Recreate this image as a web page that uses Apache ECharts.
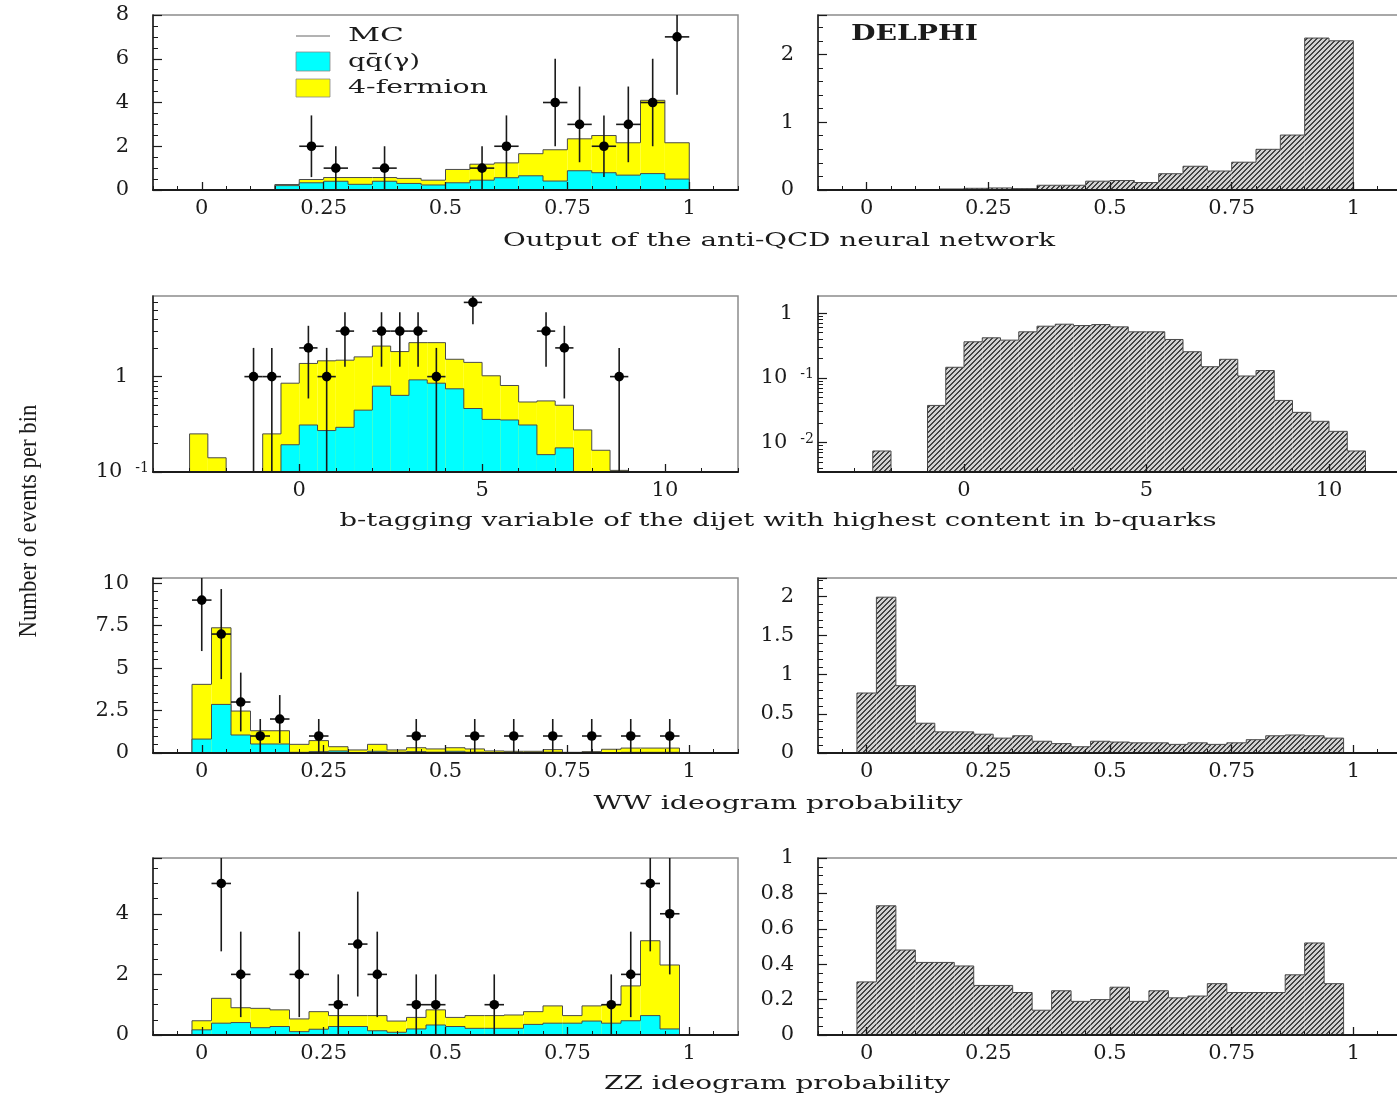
<!DOCTYPE html>
<html>
<head>
<meta charset="utf-8">
<script src="https://cdn.jsdelivr.net/npm/echarts@6/dist/echarts.min.js"></script>
<style>
  html, body { margin: 0; padding: 0; background: #fff; }
  #c { width: 1397px; height: 1101px; }
</style>
</head>
<body>
<div id="c"></div>
<script>
// ---------------- data ----------------
// Anti-QCD neural network output: 20 bins from 0 to 1
const nnBinLow = 0, nnBinWidth = 0.05;
const nnMC     = [0, 0, 0, 0.25, 0.48, 0.57, 0.57, 0.57, 0.53, 0.45, 0.94, 1.18, 1.24, 1.66, 1.84, 2.34, 2.49, 2.16, 4.10, 2.16];
const nnQQ     = [0, 0, 0, 0.20, 0.33, 0.40, 0.26, 0.40, 0.30, 0.23, 0.33, 0.45, 0.56, 0.65, 0.41, 0.88, 0.79, 0.68, 0.75, 0.50];
const nnSignal = [0, 0, 0, 0.015, 0.025, 0.03, 0.02, 0.07, 0.07, 0.13, 0.14, 0.11, 0.24, 0.35, 0.28, 0.41, 0.60, 0.81, 2.24, 2.20];
const nnDataX   = [0.225, 0.275, 0.375, 0.575, 0.625, 0.725, 0.775, 0.825, 0.875, 0.925, 0.975];
const nnDataN   = [2, 1, 1, 1, 2, 4, 3, 2, 3, 4, 7];
const nnDataErr = [1.41, 1, 1, 1, 1.41, 2, 1.73, 1.41, 1.73, 2, 2.65];

// b-tagging variable: bins of 0.5
const btagBkgLow = -3, btagSigLow = -2.5, btagBinWidth = 0.5;
const btagMC  = [0.251, 0.141, 0, 0, 0.251, 0.853, 1.374, 1.464, 1.487, 1.61, 2.09, 1.83, 2.27, 2.27, 1.52, 1.41, 1.02, 0.807, 0.542, 0.556, 0.501, 0.276, 0.169, 0.104];
const btagQQ  = [0, 0, 0, 0, 0, 0.193, 0.311, 0.272, 0.294, 0.445, 0.794, 0.636, 0.924, 0.853, 0.745, 0.463, 0.356, 0.351, 0.311, 0.152, 0.179, 0, 0, 0];
const btagSignal = [0.0074, 0, 0, 0.0375, 0.146, 0.362, 0.417, 0.384, 0.516, 0.631, 0.677, 0.646, 0.669, 0.616, 0.516, 0.516, 0.393, 0.254, 0.149, 0.194, 0.107, 0.13, 0.0448, 0.0293, 0.0213, 0.0149, 0.0074];
const btagDataX   = [-1.25, -0.75, 0.25, 0.75, 1.25, 2.25, 2.75, 3.25, 3.75, 4.75, 6.75, 7.25, 8.75];
const btagDataN   = [1, 1, 2, 1, 3, 3, 3, 3, 1, 6, 3, 2, 1];
const btagDataErr = [1, 1, 1.41, 1, 1.73, 1.73, 1.73, 1.73, 1, 2.45, 1.73, 1.41, 1];

// WW ideogram probability: 25 bins of 0.04 centred on 0, 0.04, ..., 0.96
const wwBinLow = -0.02, wwBinWidth = 0.04;
const wwMC  = [4.04, 7.37, 2.47, 1.31, 1.31, 0.51, 0.73, 0.37, 0.18, 0.51, 0.18, 0.31, 0.24, 0.31, 0.24, 0.12, 0.10, 0.10, 0.20, 0.04, 0.08, 0.22, 0.29, 0.29, 0.29];
const wwQQ  = [0.82, 2.86, 1.06, 0.53, 0.53, 0.04, 0.08, 0.12, 0.03, 0.10, 0.05, 0.08, 0.05, 0.10, 0.05, 0.03, 0.03, 0.03, 0.05, 0.02, 0.03, 0.03, 0.04, 0.04, 0.04];
const wwSignal = [0.766, 1.99, 0.86, 0.38, 0.27, 0.27, 0.24, 0.19, 0.22, 0.15, 0.12, 0.08, 0.15, 0.14, 0.13, 0.13, 0.11, 0.13, 0.11, 0.13, 0.17, 0.22, 0.23, 0.22, 0.19];
const wwDataX   = [0, 0.04, 0.08, 0.12, 0.16, 0.24, 0.44, 0.56, 0.64, 0.72, 0.80, 0.88, 0.96];
const wwDataN   = [9, 7, 3, 1, 2, 1, 1, 1, 1, 1, 1, 1, 1];
const wwDataErr = [3, 2.65, 1.73, 1, 1.41, 1, 1, 1, 1, 1, 1, 1, 1];

// ZZ ideogram probability: 25 bins of 0.04 centred on 0, 0.04, ..., 0.96
const zzBinLow = -0.02, zzBinWidth = 0.04;
const zzMC  = [0.47, 1.21, 0.90, 0.88, 0.83, 0.53, 0.77, 0.64, 0.64, 0.64, 0.46, 0.58, 0.83, 0.58, 0.64, 0.64, 0.66, 0.77, 0.96, 0.64, 0.96, 1.00, 1.62, 3.11, 2.31];
const zzQQ  = [0.17, 0.39, 0.41, 0.24, 0.28, 0.11, 0.19, 0.28, 0.28, 0.14, 0.09, 0.20, 0.33, 0.28, 0.22, 0.22, 0.22, 0.35, 0.39, 0.39, 0.46, 0.39, 0.47, 0.64, 0.20];
const zzSignal = [0.30, 0.73, 0.48, 0.41, 0.41, 0.39, 0.28, 0.28, 0.24, 0.14, 0.25, 0.19, 0.20, 0.27, 0.19, 0.25, 0.21, 0.22, 0.29, 0.24, 0.24, 0.24, 0.34, 0.52, 0.29];
const zzDataX   = [0.04, 0.08, 0.20, 0.28, 0.32, 0.36, 0.44, 0.48, 0.60, 0.84, 0.88, 0.92, 0.96];
const zzDataN   = [5, 2, 2, 1, 3, 2, 1, 1, 1, 1, 2, 5, 4];
const zzDataErr = [2.24, 1.41, 1.41, 1, 1.73, 1.41, 1, 1, 1, 1, 1.41, 2.24, 2];

// axis tick labels
const probTicks = [0, 0.25, 0.5, 0.75, 1];
const btagTicks = [0, 5, 10];

// ---------------- styling / layout ----------------
const FONT = 'DejaVu Serif';
const INK = '#1b1b1b';
const YELLOW = '#ffff00';
const CYAN = '#00ffff';
const OUTLINE = '#4a4a4a';

const LAYOUT = {
  rowTop: [15, 296, 578, 858],
  rowHeight: [175, 176, 175, 177],
  colLeft: [153, 818],
  colWidth: [585, 584]
};

// axis settings for each of the eight panels (row-major, left then right)
const panels = [
  { x: [-0.1, 1.1], xLabels: probTicks, xMinor: 0.05, y: { type: 'value', min: 0, max: 8,     interval: 2,   split: 4, showMax: true } },
  { x: [-0.1, 1.1], xLabels: probTicks, xMinor: 0.05, y: { type: 'value', min: 0, max: 2.58,  interval: 1,   split: 5, showMax: false } },
  { x: [-4, 12],    xLabels: btagTicks, xMinor: 1,    y: { type: 'log',   min: 0.1,    max: 7 } },
  { x: [-4, 12],    xLabels: btagTicks, xMinor: 1,    y: { type: 'log',   min: 0.0035, max: 1.85 } },
  { x: [-0.1, 1.1], xLabels: probTicks, xMinor: 0.05, y: { type: 'value', min: 0, max: 10.3,  interval: 2.5, split: 5, showMax: false } },
  { x: [-0.1, 1.1], xLabels: probTicks, xMinor: 0.05, y: { type: 'value', min: 0, max: 2.235, interval: 0.5, split: 5, showMax: false } },
  { x: [-0.1, 1.1], xLabels: probTicks, xMinor: 0.05, y: { type: 'value', min: 0, max: 5.84,  interval: 2,   split: 4, showMax: false } },
  { x: [-0.1, 1.1], xLabels: probTicks, xMinor: 0.05, y: { type: 'value', min: 0, max: 1,     interval: 0.2, split: 4, showMax: true } }
];

// diagonal hatch used for the signal histograms
function makeHatch() {
  const n = 5;
  const cv = document.createElement('canvas');
  cv.width = n; cv.height = n;
  const ctx = cv.getContext('2d');
  ctx.fillStyle = '#d2d2d2';
  ctx.fillRect(0, 0, n, n);
  ctx.fillStyle = '#444444';
  for (let i = 0; i < n; i++) {
    ctx.fillRect(i, n - 1 - i, 1, 1);
    ctx.fillRect(i, (n - i) % n, 1, 1);
  }
  return { image: cv, repeat: 'repeat' };
}
const HATCH = makeHatch();

const grids = [], xAxes = [], yAxes = [], series = [];

panels.forEach((p, g) => {
  const r = Math.floor(g / 2), c = g % 2;
  grids.push({
    left: LAYOUT.colLeft[c], top: LAYOUT.rowTop[r],
    width: LAYOUT.colWidth[c], height: LAYOUT.rowHeight[r],
    show: true, borderColor: '#8c8c8c', borderWidth: 1.5,
    backgroundColor: 'transparent', containLabel: false, outerBoundsMode: 'none'
  });
});

// main x axes (labels + long ticks)
panels.forEach((p, g) => {
  xAxes.push({
    gridIndex: g, type: 'value', min: p.x[0], max: p.x[1], position: 'bottom', z: 10,
    axisLine: { show: true, onZero: false, lineStyle: { color: INK, width: 2 } },
    axisTick: { show: true, inside: true, length: 8, customValues: p.xLabels, lineStyle: { color: INK, width: 1.3 } },
    axisLabel: {
      customValues: p.xLabels, margin: 8, fontFamily: FONT, fontSize: 21, color: INK,
      formatter: v => String(+(+v).toFixed(3))
    },
    splitLine: { show: false }
  });
});
// overlay x axes (short ticks)
panels.forEach((p, g) => {
  xAxes.push({
    gridIndex: g, type: 'value', min: p.x[0], max: p.x[1], interval: p.xMinor, position: 'bottom', z: 10,
    axisLine: { show: false, onZero: false },
    axisTick: { show: true, inside: true, length: 4, lineStyle: { color: INK, width: 1 } },
    axisLabel: { show: false },
    splitLine: { show: false }
  });
});

function logLabel(v) {
  const l = Math.log10(v);
  const e = Math.round(l);
  if (Math.abs(l - e) > 1e-6) return '';
  if (e === 0) return '{one|1}';
  return '{m|10}{sup|' + e + '}';
}

// main y axes
panels.forEach((p, g) => {
  const base = {
    gridIndex: g, position: 'left', z: 10,
    axisLine: { show: true, onZero: false, lineStyle: { color: INK, width: 1.5 } },
    splitLine: { show: false }
  };
  if (p.y.type === 'log') {
    yAxes.push(Object.assign(base, {
      type: 'log', logBase: 10, min: p.y.min, max: p.y.max,
      axisTick: { show: true, inside: true, length: 9, lineStyle: { color: INK, width: 1.2 } },
      axisLabel: {
        margin: 4, showMinLabel: p.y.min === 0.1, showMaxLabel: false,
        formatter: logLabel,
        rich: {
          m:   { fontFamily: FONT, fontSize: 21, color: INK },
          one: { fontFamily: FONT, fontSize: 21, color: INK, padding: [0, 21, 0, 0] },
          sup: { fontFamily: FONT, fontSize: 14, color: INK, verticalAlign: 'top', padding: [0, 0, 0, 13] }
        }
      }
    }));
  } else {
    yAxes.push(Object.assign(base, {
      type: 'value', min: p.y.min, max: p.y.max, interval: p.y.interval,
      axisTick: { show: true, inside: true, length: 9, lineStyle: { color: INK, width: 1.2 } },
      minorTick: { show: true, splitNumber: p.y.split, length: 5, lineStyle: { color: INK, width: 1 } },
      axisLabel: {
        margin: 24, showMaxLabel: p.y.showMax, fontFamily: FONT, fontSize: 21, color: INK,
        formatter: v => String(+(+v).toFixed(3))
      }
    }));
  }
});

// short ticks at 2..9 x 10^n on the log axes
function logMinorTicks(min, max) {
  const out = [];
  for (let d = Math.floor(Math.log10(min)); d <= Math.ceil(Math.log10(max)); d++) {
    for (let k = 2; k <= 9; k++) {
      const v = k * Math.pow(10, d);
      if (v > min && v < max) out.push(+v.toPrecision(3));
    }
  }
  return out;
}
panels.forEach((p, g) => {
  if (p.y.type !== 'log') return;
  yAxes.push({
    gridIndex: g, type: 'log', logBase: 10, min: p.y.min, max: p.y.max, position: 'left', z: 10,
    axisLine: { show: false, onZero: false },
    axisTick: { show: true, inside: true, length: 5, customValues: logMinorTicks(p.y.min, p.y.max), lineStyle: { color: INK, width: 1 } },
    axisLabel: { show: false },
    splitLine: { show: false }
  });
});

// filled histogram with a step outline
function histSeries(g, low, width, values, fill, z) {
  const P = panels[g];
  const base = P.y.min, top = P.y.max;
  const clampV = v => Math.min(Math.max(v, base), top);
  return {
    type: 'custom', coordinateSystem: 'cartesian2d', xAxisIndex: g, yAxisIndex: g,
    silent: true, z: z,
    data: values.map((v, i) => [low + i * width, low + (i + 1) * width, v]),
    encode: { x: [0, 1], y: 2 },
    renderItem(params, api) {
      const i = params.dataIndex;
      const x0 = api.value(0), x1 = api.value(1);
      const v = clampV(api.value(2));
      const prev = i > 0 ? clampV(values[i - 1]) : base;
      const pb = api.coord([x0, base]);
      const pt = api.coord([x1, v]);
      const pp = api.coord([x0, prev]);
      const children = [];
      if (v > base) {
        children.push({
          type: 'rect',
          shape: { x: pb[0], y: pt[1], width: pt[0] - pb[0], height: pb[1] - pt[1] },
          style: { fill: fill }
        });
      }
      children.push({
        type: 'polyline',
        shape: { points: [[pb[0], pp[1]], [pb[0], pt[1]], [pt[0], pt[1]]] },
        style: { stroke: OUTLINE, lineWidth: 1, fill: null }
      });
      if (i === values.length - 1) {
        children.push({
          type: 'line', shape: { x1: pt[0], y1: pt[1], x2: pt[0], y2: pb[1] },
          style: { stroke: OUTLINE, lineWidth: 1 }
        });
      }
      return { type: 'group', children };
    }
  };
}

// data points with error bars
function pointSeries(g, xs, ns, errs, halfWidth) {
  const P = panels[g];
  return {
    type: 'custom', coordinateSystem: 'cartesian2d', xAxisIndex: g, yAxisIndex: g,
    silent: true, z: 6,
    data: xs.map((x, i) => [x, ns[i], errs[i]]),
    encode: { x: 0, y: 1 },
    renderItem(params, api) {
      const x = api.value(0), y = api.value(1), e = api.value(2);
      const lo = Math.max(y - e, P.y.min), hi = Math.min(y + e, P.y.max);
      const c = api.coord([x, y]);
      const a = api.coord([x, lo]), b = api.coord([x, hi]);
      const l = api.coord([x - halfWidth, y]), r = api.coord([x + halfWidth, y]);
      const st = { stroke: '#1a1a1a', lineWidth: 1.6 };
      return {
        type: 'group', children: [
          { type: 'line', shape: { x1: a[0], y1: a[1], x2: b[0], y2: b[1] }, style: st },
          { type: 'line', shape: { x1: l[0], y1: l[1], x2: r[0], y2: r[1] }, style: st },
          { type: 'circle', shape: { cx: c[0], cy: c[1], r: 4.8 }, style: { fill: '#000' } }
        ]
      };
    }
  };
}

// background panels
series.push(histSeries(0, nnBinLow, nnBinWidth, nnMC, YELLOW, 2));
series.push(histSeries(0, nnBinLow, nnBinWidth, nnQQ, CYAN, 3));
series.push(pointSeries(0, nnDataX, nnDataN, nnDataErr, nnBinWidth / 2));

series.push(histSeries(2, btagBkgLow, btagBinWidth, btagMC, YELLOW, 2));
series.push(histSeries(2, btagBkgLow, btagBinWidth, btagQQ, CYAN, 3));
series.push(pointSeries(2, btagDataX, btagDataN, btagDataErr, btagBinWidth / 2));

series.push(histSeries(4, wwBinLow, wwBinWidth, wwMC, YELLOW, 2));
series.push(histSeries(4, wwBinLow, wwBinWidth, wwQQ, CYAN, 3));
series.push(pointSeries(4, wwDataX, wwDataN, wwDataErr, wwBinWidth / 2));

series.push(histSeries(6, zzBinLow, zzBinWidth, zzMC, YELLOW, 2));
series.push(histSeries(6, zzBinLow, zzBinWidth, zzQQ, CYAN, 3));
series.push(pointSeries(6, zzDataX, zzDataN, zzDataErr, zzBinWidth / 2));

// signal panels
series.push(histSeries(1, nnBinLow, nnBinWidth, nnSignal, HATCH, 2));
series.push(histSeries(3, btagSigLow, btagBinWidth, btagSignal, HATCH, 2));
series.push(histSeries(5, wwBinLow, wwBinWidth, wwSignal, HATCH, 2));
series.push(histSeries(7, zzBinLow, zzBinWidth, zzSignal, HATCH, 2));

// ---------------- text ----------------
const measureCtx = document.createElement('canvas').getContext('2d');
function stretch(text, font, targetWidth) {
  measureCtx.font = font;
  return targetWidth / measureCtx.measureText(text).width;
}
function label(text, x, y, font, targetWidth, align, extra) {
  return Object.assign({
    type: 'text', x: x, y: y, silent: true, z: 20,
    scaleX: stretch(text, font, targetWidth),
    style: { text: text, font: font, fill: INK, align: align, textAlign: align, verticalAlign: 'middle', textVerticalAlign: 'middle' }
  }, extra || {});
}

const titleFont = '19px "DejaVu Serif"';
const legendFont = '19px "DejaVu Serif"';
const graphics = [
  label('Output of the anti-QCD neural network', 779, 241, titleFont, 552, 'center'),
  label('b-tagging variable of the dijet with highest content in b-quarks', 778, 521, titleFont, 877, 'center'),
  label('WW ideogram probability', 778, 804, titleFont, 369, 'center'),
  label('ZZ ideogram probability', 777, 1084, titleFont, 346, 'center'),
  label('Number of events per bin', 29, 521, '25px "Liberation Serif"', 233, 'center', { rotation: Math.PI / 2 }),
  label('DELPHI', 851, 34, 'bold 22px "DejaVu Serif"', 127, 'left'),
  // legend
  { type: 'line', silent: true, z: 20, shape: { x1: 296, y1: 36, x2: 330, y2: 36 }, style: { stroke: '#666', lineWidth: 1 } },
  { type: 'rect', silent: true, z: 20, shape: { x: 296, y: 52, width: 34, height: 19 }, style: { fill: CYAN, stroke: '#888', lineWidth: 0.8 } },
  { type: 'rect', silent: true, z: 20, shape: { x: 296, y: 79, width: 34, height: 18 }, style: { fill: YELLOW, stroke: '#888', lineWidth: 0.8 } },
  label('MC', 348, 36, legendFont, 56, 'left'),
  label('qq\u0304(\u03b3)', 348, 62, legendFont, 72, 'left'),
  label('4-fermion', 348, 88, legendFont, 140, 'left')
];

const chart = echarts.init(document.getElementById('c'), null, { renderer: 'canvas' });
chart.setOption({
  animation: false,
  backgroundColor: '#ffffff',
  grid: grids,
  xAxis: xAxes,
  yAxis: yAxes,
  series: series,
  graphic: { elements: graphics }
});
</script>
</body>
</html>
